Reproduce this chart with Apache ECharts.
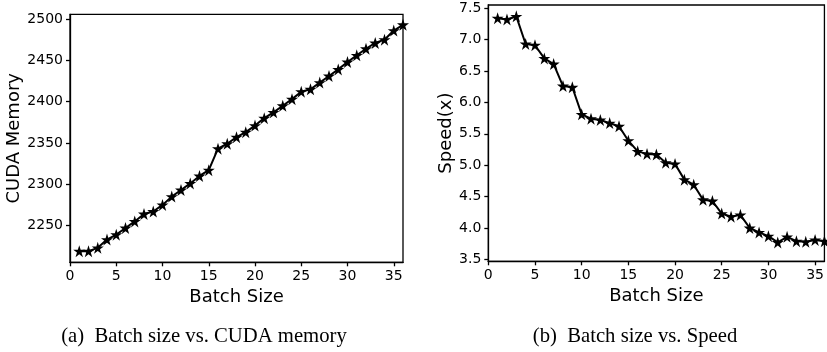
<!DOCTYPE html>
<html>
<head>
<meta charset="utf-8">
<script src="https://cdn.jsdelivr.net/npm/echarts@6/dist/echarts.min.js"></script>
<style>
html,body{margin:0;padding:0;background:#fff;}
#c{width:827px;height:352px;}
</style>
</head>
<body>
<div id="c"></div>
<script>
// ---- data ----
const batchSizes = [1,2,3,4,5,6,7,8,9,10,11,12,13,14,15,16,17,18,19,20,21,22,23,24,25,26,27,28,29,30,31,32,33,34,35,36];
const cudaMemory = [2219,2219,2223,2233,2239,2247,2255,2264,2267,2275,2285,2293,2301,2310,2317,2343,2349,2357,2363,2371,2380,2387,2395,2403,2412,2415,2423,2431,2439,2448,2456,2464,2471,2475,2486,2493];
const speed = [7.34,7.32,7.37,6.93,6.91,6.70,6.61,6.26,6.24,5.81,5.74,5.72,5.67,5.62,5.39,5.22,5.18,5.17,5.04,5.02,4.77,4.69,4.45,4.43,4.23,4.18,4.21,4.00,3.93,3.87,3.77,3.86,3.79,3.78,3.81,3.79];
const xTicks = [0,5,10,15,20,25,30,35];
const memTicks = [2250,2300,2350,2400,2450,2500];
const speedTicks = [3.5,4.0,4.5,5.0,5.5,6.0,6.5,7.0,7.5];
const xLabel = 'Batch Size';
const memLabel = 'CUDA Memory';
const speedLabel = 'Speed(x)';
const captionA = '(a)\u2002Batch size vs. CUDA memory';
const captionB = '(b)\u2002Batch size vs. Speed';

const star = 'path://M50,0 L61.2,34.5 L97.6,34.5 L68.2,55.9 L79.4,90.5 L50,69.1 L20.6,90.5 L31.8,55.9 L2.4,34.5 L38.8,34.5 Z';
const tickFont = {fontFamily:'DejaVu Sans', fontSize:14, color:'#000'};
const nameFont = {fontFamily:'DejaVu Sans', fontSize:18, color:'#000'};

function xAxis(gi){
  return {
    type:'value', gridIndex:gi, min:0, max:36,
    axisLine:{show:true, onZero:false, lineStyle:{color:'#000', width:1.3}},
    axisTick:{show:true, length:4, customValues:xTicks, lineStyle:{color:'#000', width:1.3}},
    axisLabel:Object.assign({margin:7, customValues:xTicks}, tickFont),
    splitLine:{show:false},
    name:xLabel, nameLocation:'middle', nameGap:21, nameTextStyle:nameFont
  };
}
function yAxis(gi, mn, mx, ticks, fmt, label, gap){
  return {
    type:'value', gridIndex:gi, min:mn, max:mx,
    axisLine:{show:true, onZero:false, lineStyle:{color:'#000', width:1.3}},
    axisTick:{show:true, length:4, customValues:ticks, lineStyle:{color:'#000', width:1.3}},
    axisLabel:Object.assign({margin:7, customValues:ticks, formatter:fmt}, tickFont),
    splitLine:{show:false},
    name:label, nameLocation:'middle', nameGap:gap, nameTextStyle:nameFont
  };
}

const chart = echarts.init(document.getElementById('c'), null, {renderer:'canvas'});
chart.setOption({
  animation:false,
  backgroundColor:'#fff',
  grid:[
    {left:70, top:14.3, width:333, height:248, show:true, borderColor:'#000', borderWidth:1.3, containLabel:false},
    {left:488.3, top:5, width:345, height:256.3, show:true, borderColor:'#000', borderWidth:1.3, containLabel:false}
  ],
  xAxis:[xAxis(0), xAxis(1)],
  yAxis:[
    yAxis(0, 2205.5, 2505.7, memTicks, v => String(Math.round(v)), memLabel, 44),
    yAxis(1, 3.47, 7.55, speedTicks, v => Number(v).toFixed(1), speedLabel, 32)
  ],
  series:[
    {type:'line', xAxisIndex:0, yAxisIndex:0, data:batchSizes.map((b,i)=>[b,cudaMemory[i]]),
     symbol:star, symbolSize:12, showAllSymbol:true, itemStyle:{color:'#000'}, lineStyle:{color:'#000', width:2}, clip:false},
    {type:'line', xAxisIndex:1, yAxisIndex:1, data:batchSizes.map((b,i)=>[b,speed[i]]),
     symbol:star, symbolSize:12, showAllSymbol:true, itemStyle:{color:'#000'}, lineStyle:{color:'#000', width:2}, clip:false}
  ],
  graphic:[
    {type:'text', style:{text:captionA, x:204, y:337, align:'center', verticalAlign:'middle', fontFamily:'Liberation Serif', fontSize:20.7, fill:'#000'}},
    {type:'text', style:{text:captionB, x:635, y:337, align:'center', verticalAlign:'middle', fontFamily:'Liberation Serif', fontSize:20.7, fill:'#000'}}
  ]
});
</script>
</body>
</html>
